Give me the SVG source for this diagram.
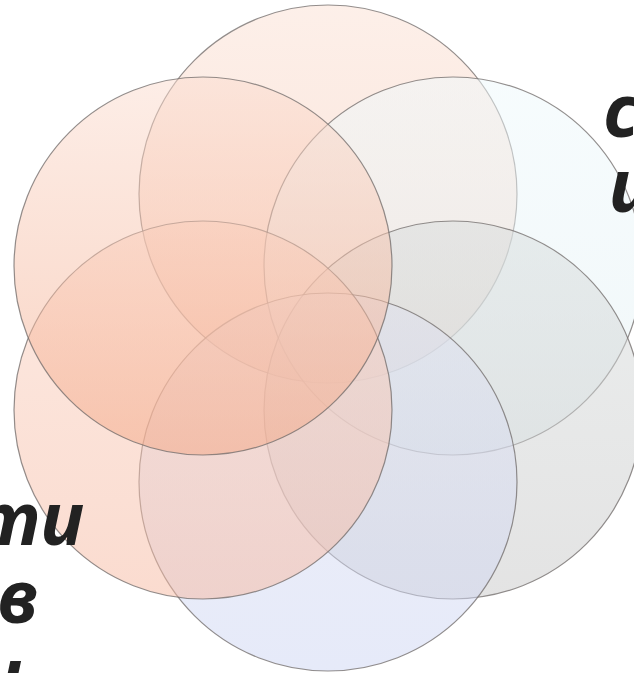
<svg xmlns="http://www.w3.org/2000/svg" width="634" height="673" viewBox="0 0 634 673">
  <defs>
    <linearGradient id="gTop" x1="0" y1="0" x2="0" y2="1">
      <stop offset="0" stop-color="#fbe0d3"/>
      <stop offset="1" stop-color="#f4c2ad"/>
    </linearGradient>
    <linearGradient id="gUR" x1="0" y1="0" x2="0" y2="1">
      <stop offset="0" stop-color="#eef9fc"/>
      <stop offset="1" stop-color="#e2eff2"/>
    </linearGradient>
    <linearGradient id="gLR" x1="0" y1="0" x2="0" y2="1">
      <stop offset="0" stop-color="#d8dddd"/>
      <stop offset="1" stop-color="#c8c8c8"/>
    </linearGradient>
    <linearGradient id="gBot" x1="0" y1="0" x2="0" y2="1">
      <stop offset="0" stop-color="#e0e2f0"/>
      <stop offset="1" stop-color="#cdd5f3"/>
    </linearGradient>
    <linearGradient id="gLL" x1="0" y1="0" x2="0" y2="1">
      <stop offset="0" stop-color="#fbd4c4"/>
      <stop offset="1" stop-color="#f6b8a0"/>
    </linearGradient>
    <linearGradient id="gUL" x1="0" y1="0" x2="0" y2="1">
      <stop offset="0" stop-color="#fbdccf"/>
      <stop offset="1" stop-color="#f3a684"/>
    </linearGradient>
  </defs>
  <style>
    .c { stroke: #6f6a68; stroke-width: 1.2; stroke-opacity: 0.75; fill-opacity: 0.5; }
    .t { font-family: "Noto Sans", "Open Sans", "Liberation Sans", sans-serif; font-weight: bold; font-style: italic; font-size: 73px; fill: #222222; }
  </style>
  <g id="circle-top"><circle class="c" cx="328" cy="194" r="189" fill="url(#gTop)"/></g>
  <g id="circle-upper-right"><circle class="c" cx="453" cy="266" r="189" fill="url(#gUR)"/></g>
  <g id="circle-lower-right"><circle class="c" cx="453" cy="410" r="189" fill="url(#gLR)"/></g>
  <g id="circle-bottom"><circle class="c" cx="328" cy="482" r="189" fill="url(#gBot)"/></g>
  <g id="circle-lower-left"><circle class="c" cx="203" cy="410" r="189" fill="url(#gLL)"/></g>
  <g id="circle-upper-left"><circle class="c" cx="203" cy="266" r="189" fill="url(#gUL)"/></g>
  <g id="connectors"/>
  <g id="text-right">
    <text class="t" x="604" y="137">с</text>
    <text class="t" x="609" y="212">и</text>
  </g>
  <g id="text-left">
    <text class="t" x="84" y="545" text-anchor="end">ти</text>
    <text class="t" x="38" y="623" text-anchor="end">в</text>
    <text class="t" x="22" y="701" text-anchor="end">и</text>
  </g>
</svg>
